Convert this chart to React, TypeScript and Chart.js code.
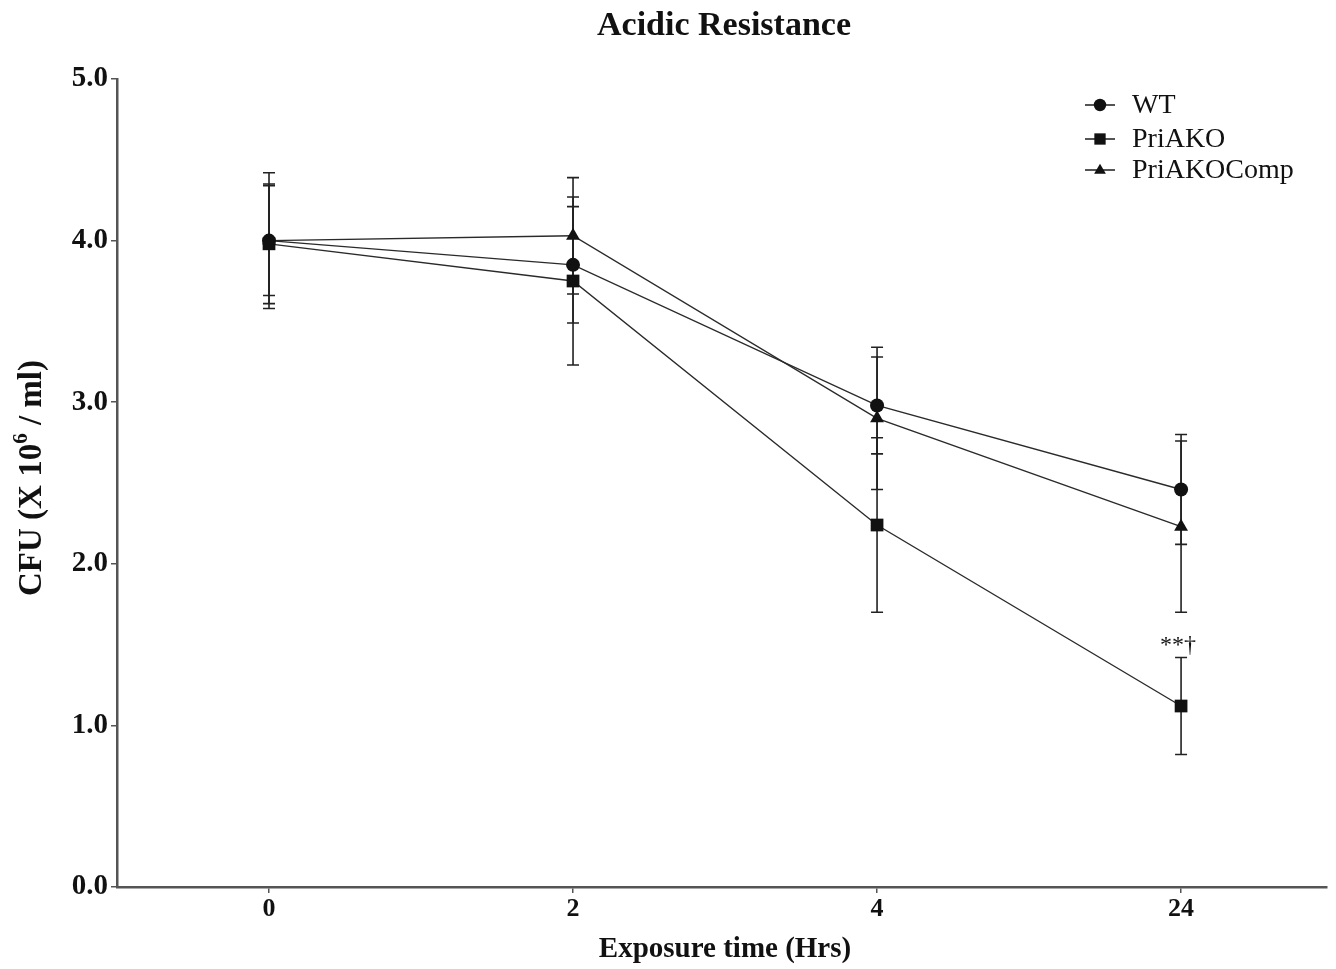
import React, { useEffect, useRef } from 'react';
import { Chart, registerables } from 'chart.js';

Chart.register(...registerables);

const timeLabels = ['0', '2', '4', '24'];
const xIndex = [0, 1, 2, 3];
const seriesNames = ['WT', 'PriAKO', 'PriAKOComp'];
const wtMean = [4.0, 3.85, 2.98, 2.46];
const wtSd = [0.42, 0.36, 0.3, 0.34];
const koMean = [3.98, 3.75, 2.24, 1.12];
const koSd = [0.37, 0.52, 0.54, 0.3];
const compMean = [4.0, 4.03, 2.9, 2.23];
const compSd = [0.34, 0.36, 0.44, 0.53];
const yTicks = [0, 1, 2, 3, 4, 5];
const annotationText = '**\u2020';
const annotationSeries = 1;
const annotationIndex = 3;

const SERIF = '"Liberation Serif", "Times New Roman", serif';
const LINE = '#2a2a2a';
const MARK = '#111111';

function drawMarker(ctx: CanvasRenderingContext2D, style: string, x: number, y: number, r: number) {
  ctx.beginPath();
  if (style === 'circle') {
    ctx.arc(x, y, r, 0, Math.PI * 2);
  } else if (style === 'rect') {
    const s = r * Math.SQRT1_2;
    ctx.rect(x - s, y - s, 2 * s, 2 * s);
  } else {
    ctx.moveTo(x, y - r);
    ctx.lineTo(x + r * 0.95, y + r * 0.62);
    ctx.lineTo(x - r * 0.95, y + r * 0.62);
    ctx.closePath();
  }
  ctx.fillStyle = MARK;
  ctx.fill();
}

const sds = [wtSd, koSd, compSd];
const styles = ['circle', 'rect', 'triangle'];

const decorPlugin = {
  id: 'decor',
  beforeDatasetsDraw(chart: any) {
    const ctx = chart.ctx as CanvasRenderingContext2D;
    const xs = chart.scales.x;
    const ys = chart.scales.y;
    ctx.save();
    ctx.strokeStyle = '#222';
    ctx.lineWidth = 1.6;
    chart.data.datasets.forEach((ds: any, di: number) => {
      ds.data.forEach((p: any, i: number) => {
        const sd = sds[di][i];
        const px = xs.getPixelForValue(p.x);
        const top = ys.getPixelForValue(p.y + sd);
        const bot = ys.getPixelForValue(p.y - sd);
        ctx.beginPath();
        ctx.moveTo(px, top);
        ctx.lineTo(px, bot);
        ctx.moveTo(px - 6, top);
        ctx.lineTo(px + 6, top);
        ctx.moveTo(px - 6, bot);
        ctx.lineTo(px + 6, bot);
        ctx.stroke();
      });
    });
    ctx.restore();
  },
  afterDraw(chart: any) {
    const ctx = chart.ctx as CanvasRenderingContext2D;
    const xs = chart.scales.x;
    const ys = chart.scales.y;
    const area = chart.chartArea;
    ctx.save();
    ctx.fillStyle = '#111';
    // title
    ctx.font = `bold 34px ${SERIF}`;
    ctx.textAlign = 'center';
    ctx.textBaseline = 'middle';
    ctx.fillText('Acidic Resistance', 724, 26);
    // x title
    ctx.font = `bold 29px ${SERIF}`;
    ctx.fillText('Exposure time (Hrs)', 725, 950);
    // y title with superscript
    ctx.save();
    ctx.translate(32, (area.top + area.bottom) / 2 - 5);
    ctx.rotate(-Math.PI / 2);
    const big = `bold 33px ${SERIF}`;
    const small = `bold 21px ${SERIF}`;
    const a = 'CFU (X 10';
    const b = '6';
    const c = ' / ml)';
    ctx.font = big;
    const wa = ctx.measureText(a).width;
    const wc = ctx.measureText(c).width;
    ctx.font = small;
    const wb = ctx.measureText(b).width;
    const total = wa + wb + wc;
    let sx = -total / 2;
    ctx.textAlign = 'left';
    ctx.font = big;
    ctx.fillText(a, sx, 0);
    sx += wa;
    ctx.font = small;
    ctx.fillText(b, sx, -10);
    sx += wb;
    ctx.font = big;
    ctx.fillText(c, sx, 0);
    ctx.restore();
    // annotation
    const means = chart.data.datasets[annotationSeries].data[annotationIndex];
    const ax = xs.getPixelForValue(means.x);
    const ay = ys.getPixelForValue(means.y + sds[annotationSeries][annotationIndex]) - 12;
    ctx.font = `24px ${SERIF}`;
    ctx.textAlign = 'center';
    ctx.fillText(annotationText, ax - 3, ay);
    // legend
    const lx0 = 1085;
    const lx1 = 1115;
    const rows = [105, 139, 170];
    seriesNames.forEach((name, i) => {
      const y = rows[i];
      ctx.strokeStyle = LINE;
      ctx.lineWidth = 1.6;
      ctx.beginPath();
      ctx.moveTo(lx0, y);
      ctx.lineTo(lx1, y);
      ctx.stroke();
      drawMarker(ctx, styles[i], (lx0 + lx1) / 2, y, i === 1 ? 8 : 6.2);
      ctx.fillStyle = '#111';
      ctx.font = `28px ${SERIF}`;
      ctx.textAlign = 'left';
      ctx.textBaseline = 'middle';
      ctx.fillText(name, 1132, y + 1);
    });
    ctx.restore();
  },
};

export default function App() {
  const ref = useRef<HTMLCanvasElement | null>(null);
  useEffect(() => {
    if (!ref.current) return;
    const mk = (mean: number[]) => mean.map((v, i) => ({ x: xIndex[i], y: v }));
    const chart = new Chart(ref.current, {
      type: 'line',
      data: {
        datasets: [
          { label: seriesNames[0], data: mk(wtMean), pointStyle: 'circle', pointRadius: 7 },
          { label: seriesNames[1], data: mk(koMean), pointStyle: 'rect', pointRadius: 9 },
          { label: seriesNames[2], data: mk(compMean), pointStyle: 'triangle', pointRadius: 8 },
        ].map((d) => ({
          ...d,
          borderColor: LINE,
          borderWidth: 1.4,
          backgroundColor: MARK,
          pointBackgroundColor: MARK,
          pointBorderColor: MARK,
          pointBorderWidth: 0,
          pointHoverRadius: d.pointRadius,
          tension: 0,
          fill: false,
        })),
      },
      options: {
        responsive: false,
        animation: false,
        events: [],
        layout: { padding: { top: 79, right: 8, left: 0, bottom: 0 } },
        plugins: { legend: { display: false }, title: { display: false }, tooltip: { enabled: false } },
        scales: {
          x: {
            type: 'linear',
            min: -0.5,
            max: 3.48,
            afterBuildTicks: (scale: any) => {
              scale.ticks = xIndex.map((v) => ({ value: v }));
            },
            afterFit: (scale: any) => {
              scale.height = 82;
              scale.paddingLeft = 0;
              scale.paddingRight = 0;
            },
            grid: { display: true, drawOnChartArea: false, drawTicks: true, tickLength: 6, color: '#555', lineWidth: 1.5 },
            border: { display: true, color: '#555', width: 2.5 },
            ticks: {
              color: '#111',
              font: { family: SERIF, size: 26, weight: 'bold' },
              padding: 1,
              maxRotation: 0,
              callback: (v: any) => timeLabels[xIndex.indexOf(Number(v))] ?? '',
            },
          },
          y: {
            type: 'linear',
            min: 0,
            max: 5,
            afterBuildTicks: (scale: any) => {
              scale.ticks = yTicks.map((v) => ({ value: v }));
            },
            afterFit: (scale: any) => {
              scale.width = 117;
            },
            grid: { display: true, drawOnChartArea: false, drawTicks: true, tickLength: 6, color: '#555', lineWidth: 1.5 },
            border: { display: true, color: '#555', width: 2.5 },
            ticks: {
              color: '#111',
              font: { family: SERIF, size: 29, weight: 'bold' },
              padding: 3,
              callback: (v: any) => Number(v).toFixed(1),
            },
          },
        },
      },
      plugins: [decorPlugin],
    } as any);
    return () => chart.destroy();
  }, []);
  return (
    <div style={{ position: 'fixed', left: 0, top: 0, width: 1336, height: 969, background: '#fff' }}>
      <canvas ref={ref} width={1336} height={969} style={{ display: 'block', width: 1336, height: 969 }} />
    </div>
  );
}
